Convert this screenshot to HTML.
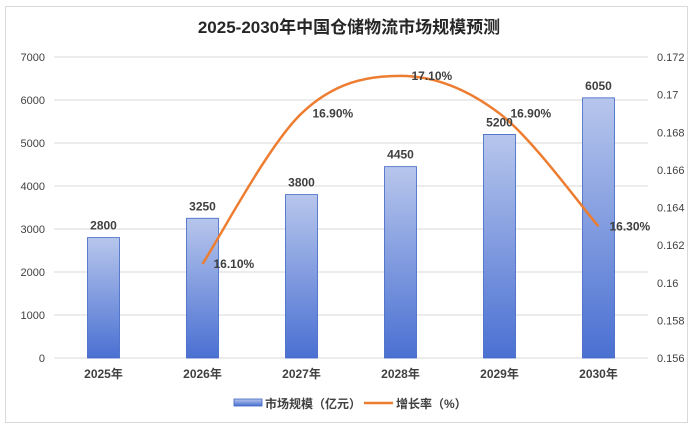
<!DOCTYPE html>
<html><head><meta charset="utf-8"><style>
body{margin:0;background:#fff;font-family:"Liberation Sans","Noto Sans CJK SC",sans-serif;}
#frame{position:absolute;left:5px;top:6px;width:683px;height:417px;border:1px solid #d9d9d9;box-sizing:border-box;}
</style></head><body>
<div id="frame"></div>
<svg id="chart" width="699" height="430" style="position:absolute;left:0;top:0">
<defs><linearGradient id="bg" x1="0" y1="0" x2="0" y2="1"><stop offset="0" stop-color="#b7c6ec"/><stop offset="1" stop-color="#4a70d2"/></linearGradient></defs>
<text x="349" y="33" text-anchor="middle" font-size="17" font-weight="bold" fill="#262626" font-family="Liberation Sans,Noto Sans CJK SC,sans-serif">2025-2030年中国仓储物流市场规模预测</text>
<g id="grid"></g><g id="bars"></g><g id="line"></g><g id="labels"></g>
<g font-size="12" font-weight="bold" fill="#404040">
<rect x="234" y="399" width="28" height="7" fill="url(#bg)" stroke="#3d64c4" stroke-width="0.8"/>
<text x="265" y="408">市场规模（亿元）</text>
<line x1="364" y1="403" x2="393" y2="403" stroke="#ed7d31" stroke-width="2.5"/>
<text x="396" y="408">增长率（%）</text>
</g>
</svg>
<script>
const categories=['2025年','2026年','2027年','2028年','2029年','2030年'];
const marketSize=[2800,3250,3800,4450,5200,6050];
const growthRate=[null,0.161,0.169,0.171,0.169,0.163];
const growthLabels=['','16.10%','16.90%','17.10%','16.90%','16.30%'];
const leftTicks=[0,1000,2000,3000,4000,5000,6000,7000];
const rightTicks=[0.156,0.158,0.16,0.162,0.164,0.166,0.168,0.17,0.172];
const NS='http://www.w3.org/2000/svg';
const X0=54,X1=648,Y0=358,Y1=57;
const band=(X1-X0)/categories.length;
const xc=i=>X0+band*(i+0.5);
const yL=v=>Y0-(v/7000)*(Y0-Y1);
const yR=v=>Y0-((v-0.156)/0.016)*(Y0-Y1);
function mk(tag,attrs,parent,txt){const e=document.createElementNS(NS,tag);for(const k in attrs)e.setAttribute(k,attrs[k]);if(txt!=null)e.textContent=txt;document.getElementById(parent).appendChild(e);return e;}
leftTicks.forEach(t=>{
  const l=mk('line',{x1:X0,x2:X1,y1:yL(t),y2:yL(t),stroke:'#d9d9d9','stroke-width':1},'grid');
  
  
  const tx=mk('text',{x:45,y:yL(t)+4,'text-anchor':'end','font-size':11,fill:'#404040'},'grid',t);
  
  
});
rightTicks.forEach(t=>{
  const tx=mk('text',{x:657,y:yR(t)+4,'font-size':11,fill:'#404040'},'grid',String(+t.toFixed(3)));
  
  
});
const bw=32;
marketSize.forEach((v,i)=>{
  const r=mk('rect',{x:xc(i)-bw/2,y:yL(v),width:bw,height:Y0-yL(v),fill:'url(#bg)',stroke:'#3d64c4','stroke-width':0.8},'bars');
  
  
  const t=mk('text',{x:xc(i),y:yL(v)-8,'text-anchor':'middle','font-size':12,'font-weight':'bold',fill:'#404040'},'labels',v);
  
  
  const c=mk('text',{x:xc(i),y:378,'text-anchor':'middle','font-size':12,'font-weight':'bold',fill:'#404040'},'labels',categories[i]);
  
  
});
const pts=[];growthRate.forEach((v,i)=>{if(v!=null)pts.push([xc(i),yR(v)]);});
let d='M'+pts[0][0]+','+pts[0][1];
for(let i=0;i<pts.length-1;i++){
  const p0=pts[i-1]||pts[i],p1=pts[i],p2=pts[i+1],p3=pts[i+2]||p2;
  const c1=[p1[0]+(p2[0]-p0[0])/6,p1[1]+(p2[1]-p0[1])/6],c2=[p2[0]-(p3[0]-p1[0])/6,p2[1]-(p3[1]-p1[1])/6];
  d+=` C${c1[0]},${c1[1]} ${c2[0]},${c2[1]} ${p2[0]},${p2[1]}`;
}
const path=mk('path',{d:d,fill:'none',stroke:'#ed7d31','stroke-width':2.5},'line');


growthRate.forEach((v,i)=>{if(v==null)return;
  const t=mk('text',{x:xc(i)+11,y:yR(v)+4,'font-size':12,'font-weight':'bold',fill:'#404040'},'labels',growthLabels[i]);
  
  
});
</script>
</body></html>
